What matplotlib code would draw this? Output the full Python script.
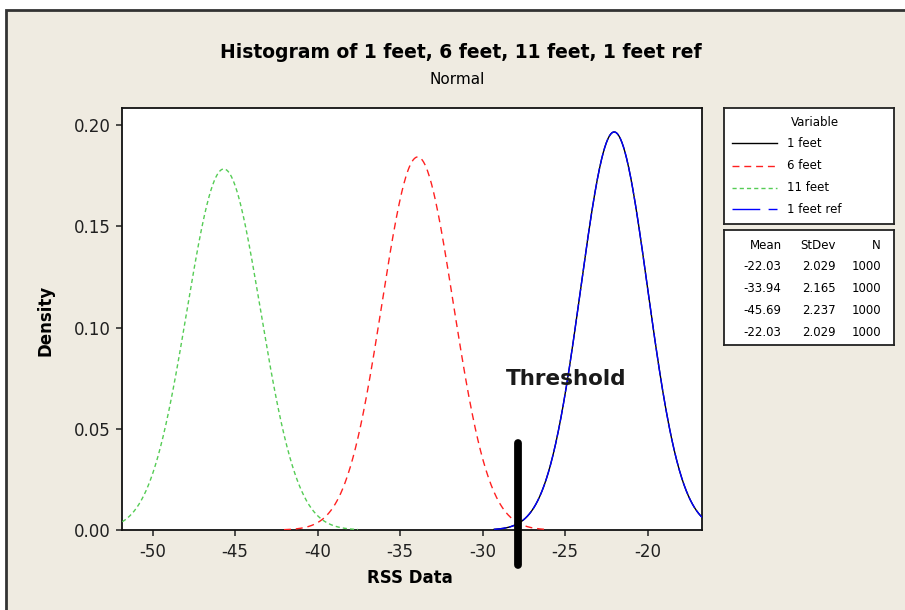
import numpy as np
import matplotlib
matplotlib.use("Agg")
import matplotlib.pyplot as plt
from matplotlib.patches import Rectangle

# fitted normal parameters (from the stats table)
variables = ["1 feet", "6 feet", "11 feet", "1 feet ref"]
means = [-22.03, -33.94, -45.69, -22.03]
stdevs = [2.029, 2.165, 2.237, 2.029]
counts = [1000, 1000, 1000, 1000]
# x range over which each fitted curve is drawn
x_from = [-29.31, -42.04, -51.84, -29.31]
x_to = [-16.69, -26.04, -37.56, -16.69]

threshold = -27.84
threshold_y = [-0.0173, 0.043]

colors = ["black", "#ff2020", "#55cc55", "#0000ff"]
dashes = [None, (5, 3.5), (3, 2.2), (9, 2)]

bg = "#efebe1"
W, H = 905, 610


def fx(px):
    return px / W


def fy(py):
    return 1 - py / H


plt.rcParams["font.family"] = "DejaVu Sans"
plt.rcParams["lines.scale_dashes"] = False
plt.rcParams["axes.unicode_minus"] = False

fig = plt.figure(figsize=(W / 100, H / 100), dpi=100, facecolor="white")
fig.patches.append(Rectangle((fx(6), -0.02), 1.1, fy(9.5) + 0.02, transform=fig.transFigure,
                             facecolor=bg, edgecolor="#333333", linewidth=2, zorder=-10))

ax = fig.add_axes([fx(122.3), fy(530), (702.3 - 122.3) / W, (530 - 107.7) / H])
ax.set_facecolor("white")

for i, name in enumerate(variables):
    x = np.linspace(x_from[i], x_to[i], 400)
    y = np.exp(-0.5 * ((x - means[i]) / stdevs[i]) ** 2) / (stdevs[i] * np.sqrt(2 * np.pi))
    line, = ax.plot(x, y, color=colors[i], linewidth=1.0, label=name, zorder=2 + i)
    if dashes[i] is not None:
        line.set_dashes(dashes[i])

ax.plot([threshold, threshold], threshold_y, color="black", linewidth=5.6,
        solid_capstyle="round", clip_on=False, zorder=10)

ax.set_xlim(-51.84, -16.69)
ax.set_ylim(0, 0.2086)
ax.set_xticks([-50, -45, -40, -35, -30, -25, -20])
ax.set_yticks([0, 0.05, 0.10, 0.15, 0.20])
ax.set_yticklabels(["0.00", "0.05", "0.10", "0.15", "0.20"])
ax.tick_params(direction="out", length=4.3, width=1.1, labelsize=12, colors="#202020", pad=4)
ax.tick_params(axis="x", pad=5)
for s in ax.spines.values():
    s.set_linewidth(1.3)
    s.set_color("#111111")

fig.text(fx(461), fy(52), "Histogram of 1 feet, 6 feet, 11 feet, 1 feet ref",
         ha="center", va="center", fontsize=13.5, fontweight="bold")
fig.text(fx(457), fy(80), "Normal", ha="center", va="center", fontsize=11)
fig.text(fx(410), fy(578), "RSS Data", ha="center", va="center", fontsize=12, fontweight="bold")
fig.text(fx(45), fy(320), "Density", ha="center", va="center", fontsize=12,
         fontweight="bold", rotation=90)
fig.text(fx(566), fy(379), "Threshold", ha="center", va="center", fontsize=15.5,
         fontweight="bold", color="#1a1a1a")

# legend box (pixel coordinates inside)
leg = fig.add_axes([fx(724.3), fy(224), (894 - 724.3) / W, (224 - 107.5) / H])
leg.set_xlim(724.3, 894)
leg.set_ylim(224, 107.5)
leg.set_xticks([])
leg.set_yticks([])
for s in leg.spines.values():
    s.set_linewidth(1.3)
    s.set_color("#222222")
leg.text(815, 122.7, "Variable", ha="center", va="center", fontsize=8.5)
entry_y = [143.3, 165.7, 187.7, 209.3]
for i, name in enumerate(variables):
    ln, = leg.plot([731.7, 777], [entry_y[i]] * 2, color=colors[i], linewidth=1.0)
    if dashes[i] is not None:
        ln.set_dashes(dashes[i] if i != 3 else (20, 6))
    leg.text(786.7, entry_y[i], name, ha="left", va="center", fontsize=8.5)

# stats box
st = fig.add_axes([fx(724.3), fy(345), (894 - 724.3) / W, (345 - 230) / H])
st.set_xlim(724.3, 894)
st.set_ylim(345, 230)
st.set_xticks([])
st.set_yticks([])
for s in st.spines.values():
    s.set_linewidth(1.3)
    s.set_color("#222222")
st.text(781.7, 245.7, "Mean", ha="right", va="center", fontsize=8.5)
st.text(835.7, 245.7, "StDev", ha="right", va="center", fontsize=8.5)
st.text(881, 245.7, "N", ha="right", va="center", fontsize=8.5)
row_y = [266.7, 289, 311, 332.7]
for i in range(len(variables)):
    st.text(781.7, row_y[i], f"{means[i]:.2f}", ha="right", va="center", fontsize=8.5)
    st.text(835.7, row_y[i], f"{stdevs[i]:.3f}", ha="right", va="center", fontsize=8.5)
    st.text(881, row_y[i], f"{counts[i]}", ha="right", va="center", fontsize=8.5)

fig.savefig("out.png", dpi=100, facecolor=fig.get_facecolor())
